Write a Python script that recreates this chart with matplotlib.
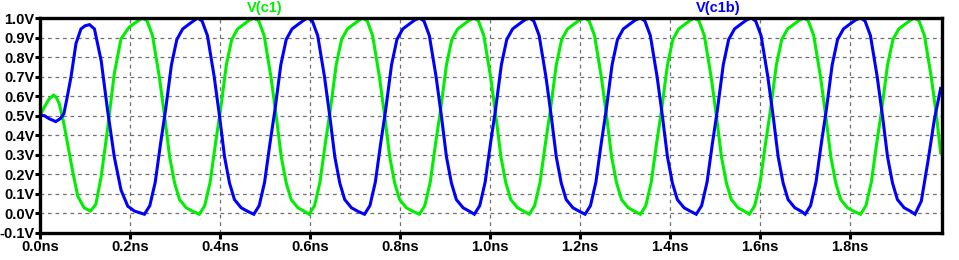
import matplotlib
matplotlib.use("Agg")
import matplotlib.pyplot as plt
import numpy as np

# V(c1b) - blue trace, time in ns, values in V
t_c1b = [0.000, 0.010, 0.020, 0.035, 0.045, 0.053, 0.060, 0.069, 0.080, 0.091, 0.100, 0.110,
         0.121, 0.136, 0.150, 0.165, 0.180, 0.195, 0.210, 0.232,
         0.244, 0.256, 0.268, 0.279, 0.292, 0.304, 0.317, 0.332, 0.344, 0.350,
         0.360, 0.372, 0.387, 0.399, 0.410, 0.421, 0.432, 0.447, 0.462, 0.475,
         0.487, 0.499, 0.511, 0.522, 0.535, 0.547, 0.560, 0.575, 0.587, 0.595,
         0.605, 0.617, 0.632, 0.644, 0.655, 0.666, 0.677, 0.692, 0.707, 0.721,
         0.733, 0.745, 0.757, 0.768, 0.781, 0.793, 0.806, 0.821, 0.833, 0.843,
         0.853, 0.865, 0.880, 0.892, 0.903, 0.914, 0.925, 0.940, 0.955, 0.965,
         0.977, 0.989, 1.001, 1.012, 1.025, 1.037, 1.050, 1.065, 1.077, 1.087,
         1.097, 1.109, 1.124, 1.136, 1.147, 1.158, 1.169, 1.184, 1.199, 1.211,
         1.223, 1.235, 1.247, 1.258, 1.271, 1.283, 1.296, 1.311, 1.323, 1.334,
         1.344, 1.356, 1.371, 1.383, 1.394, 1.405, 1.416, 1.431, 1.446, 1.458,
         1.470, 1.482, 1.494, 1.505, 1.518, 1.530, 1.543, 1.558, 1.570, 1.580,
         1.590, 1.602, 1.617, 1.629, 1.640, 1.651, 1.662, 1.677, 1.692, 1.700,
         1.712, 1.724, 1.736, 1.747, 1.760, 1.772, 1.785, 1.800, 1.812, 1.823,
         1.833, 1.845, 1.860, 1.872, 1.883, 1.894, 1.905, 1.920, 1.935, 1.944,
         1.958, 1.973, 1.987, 2.001]
v_c1b = [0.503, 0.500, 0.485, 0.470, 0.485, 0.510, 0.590, 0.700, 0.870, 0.944, 0.960, 0.966,
         0.944, 0.780, 0.530, 0.290, 0.120, 0.037, 0.012, -0.004,
         0.04, 0.16, 0.36, 0.53, 0.76, 0.89, 0.944, 0.97, 0.99, 1.0,
         0.985, 0.91, 0.70, 0.495, 0.29, 0.156, 0.071, 0.029, 0.010, -0.004,
         0.04, 0.16, 0.36, 0.53, 0.76, 0.89, 0.944, 0.97, 0.99, 1.0,
         0.985, 0.91, 0.70, 0.495, 0.29, 0.156, 0.071, 0.029, 0.010, -0.004,
         0.04, 0.16, 0.36, 0.53, 0.76, 0.89, 0.944, 0.97, 0.99, 1.0,
         0.985, 0.91, 0.70, 0.495, 0.29, 0.156, 0.071, 0.029, 0.010, -0.004,
         0.04, 0.16, 0.36, 0.53, 0.76, 0.89, 0.944, 0.97, 0.99, 1.0,
         0.985, 0.91, 0.70, 0.495, 0.29, 0.156, 0.071, 0.029, 0.010, -0.004,
         0.04, 0.16, 0.36, 0.53, 0.76, 0.89, 0.944, 0.97, 0.99, 1.0,
         0.985, 0.91, 0.70, 0.495, 0.29, 0.156, 0.071, 0.029, 0.010, -0.004,
         0.04, 0.16, 0.36, 0.53, 0.76, 0.89, 0.944, 0.97, 0.99, 1.0,
         0.985, 0.91, 0.70, 0.495, 0.29, 0.156, 0.071, 0.029, 0.010, -0.004,
         0.04, 0.16, 0.36, 0.53, 0.76, 0.89, 0.944, 0.97, 0.99, 1.0,
         0.985, 0.91, 0.70, 0.495, 0.29, 0.156, 0.071, 0.029, 0.010, -0.004,
         0.063, 0.27, 0.48, 0.64]

# V(c1) - green trace
t_c1 = [0.000, 0.010, 0.020, 0.030, 0.036, 0.043, 0.053, 0.061, 0.073, 0.084, 0.098, 0.112,
        0.124, 0.136, 0.150, 0.165, 0.180, 0.198, 0.213, 0.228,
        0.238, 0.250, 0.265, 0.277, 0.288, 0.299, 0.310, 0.325, 0.340, 0.354,
        0.366, 0.378, 0.390, 0.401, 0.414, 0.426, 0.439, 0.454, 0.466, 0.476,
        0.486, 0.498, 0.513, 0.525, 0.536, 0.547, 0.558, 0.573, 0.588, 0.598,
        0.610, 0.622, 0.634, 0.645, 0.658, 0.670, 0.683, 0.698, 0.710, 0.717,
        0.727, 0.739, 0.754, 0.766, 0.777, 0.788, 0.799, 0.814, 0.829, 0.843,
        0.855, 0.867, 0.879, 0.890, 0.903, 0.915, 0.928, 0.943, 0.955, 0.964,
        0.974, 0.986, 1.001, 1.013, 1.024, 1.035, 1.046, 1.061, 1.076, 1.087,
        1.099, 1.111, 1.123, 1.134, 1.147, 1.159, 1.172, 1.187, 1.199, 1.210,
        1.220, 1.232, 1.247, 1.259, 1.270, 1.281, 1.292, 1.307, 1.322, 1.334,
        1.346, 1.358, 1.370, 1.381, 1.394, 1.406, 1.419, 1.434, 1.446, 1.454,
        1.464, 1.476, 1.491, 1.503, 1.514, 1.525, 1.536, 1.551, 1.566, 1.576,
        1.588, 1.600, 1.612, 1.623, 1.636, 1.648, 1.661, 1.676, 1.688, 1.697,
        1.707, 1.719, 1.734, 1.746, 1.757, 1.768, 1.779, 1.794, 1.809, 1.823,
        1.835, 1.847, 1.859, 1.870, 1.883, 1.895, 1.908, 1.923, 1.935, 1.943,
        1.953, 1.965, 1.980, 1.992, 2.001]
v_c1 = [0.500, 0.545, 0.585, 0.605, 0.595, 0.560, 0.460, 0.360, 0.210, 0.088, 0.029, 0.012,
        0.046, 0.19, 0.43, 0.715, 0.893, 0.953, 0.978, 1.0,
        0.985, 0.91, 0.70, 0.495, 0.29, 0.156, 0.071, 0.029, 0.010, -0.004,
        0.04, 0.16, 0.36, 0.53, 0.76, 0.89, 0.944, 0.97, 0.99, 1.0,
        0.985, 0.91, 0.70, 0.495, 0.29, 0.156, 0.071, 0.029, 0.010, -0.004,
        0.04, 0.16, 0.36, 0.53, 0.76, 0.89, 0.944, 0.97, 0.99, 1.0,
        0.985, 0.91, 0.70, 0.495, 0.29, 0.156, 0.071, 0.029, 0.010, -0.004,
        0.04, 0.16, 0.36, 0.53, 0.76, 0.89, 0.944, 0.97, 0.99, 1.0,
        0.985, 0.91, 0.70, 0.495, 0.29, 0.156, 0.071, 0.029, 0.010, -0.004,
        0.04, 0.16, 0.36, 0.53, 0.76, 0.89, 0.944, 0.97, 0.99, 1.0,
        0.985, 0.91, 0.70, 0.495, 0.29, 0.156, 0.071, 0.029, 0.010, -0.004,
        0.04, 0.16, 0.36, 0.53, 0.76, 0.89, 0.944, 0.97, 0.99, 1.0,
        0.985, 0.91, 0.70, 0.495, 0.29, 0.156, 0.071, 0.029, 0.010, -0.004,
        0.04, 0.16, 0.36, 0.53, 0.76, 0.89, 0.944, 0.97, 0.99, 1.0,
        0.985, 0.91, 0.70, 0.495, 0.29, 0.156, 0.071, 0.029, 0.010, -0.004,
        0.04, 0.16, 0.36, 0.53, 0.76, 0.89, 0.944, 0.97, 0.99, 1.0,
        0.985, 0.91, 0.70, 0.495, 0.31]

x_ticks = [0.0, 0.2, 0.4, 0.6, 0.8, 1.0, 1.2, 1.4, 1.6, 1.8]
y_ticks = [-0.1, 0.0, 0.1, 0.2, 0.3, 0.4, 0.5, 0.6, 0.7, 0.8, 0.9, 1.0]

green = '#00ee00'
blue = '#0000ff'
font = 'Liberation Sans'

fig = plt.figure(figsize=(9.59, 2.60), dpi=100)
ax = fig.add_axes([40/959, 27/260, 902/959, 215/260])

ax.plot(t_c1, v_c1, color=green, lw=2.2, solid_joinstyle='miter')
ax.plot(t_c1b, v_c1b, color=blue, lw=2.2, solid_joinstyle='miter')

ax.set_xlim(0, 2.004)
ax.set_ylim(-0.1, 1.0)
ax.set_xticks(x_ticks)
ax.set_xticklabels([f'{x:.1f}ns' for x in x_ticks])
ax.set_yticks(y_ticks)
ax.set_yticklabels([f'{y:.1f}V' for y in y_ticks])

ax.grid(True, color='#707070', linestyle=(0, (3, 3)), linewidth=0.9)
for s in ax.spines.values():
    s.set_linewidth(2.4)
    s.set_color('black')
ax.tick_params(direction='out', length=4, width=2.2, color='black', pad=1)
ax.tick_params(axis='y', length=3.5, pad=0.3)
for lab in ax.get_xticklabels() + ax.get_yticklabels():
    lab.set_fontweight('bold')
    lab.set_fontsize(10.5)
    lab.set_family(font)

fig.text(265/959, 1 - 8/260, 'V(c1)', color=green, fontsize=10.5, fontweight='bold',
         family=font, ha='center', va='center')
fig.text(718/959, 1 - 8/260, 'V(c1b)', color=blue, fontsize=10.5, fontweight='bold',
         family=font, ha='center', va='center')

fig.savefig('out.png', dpi=100)
